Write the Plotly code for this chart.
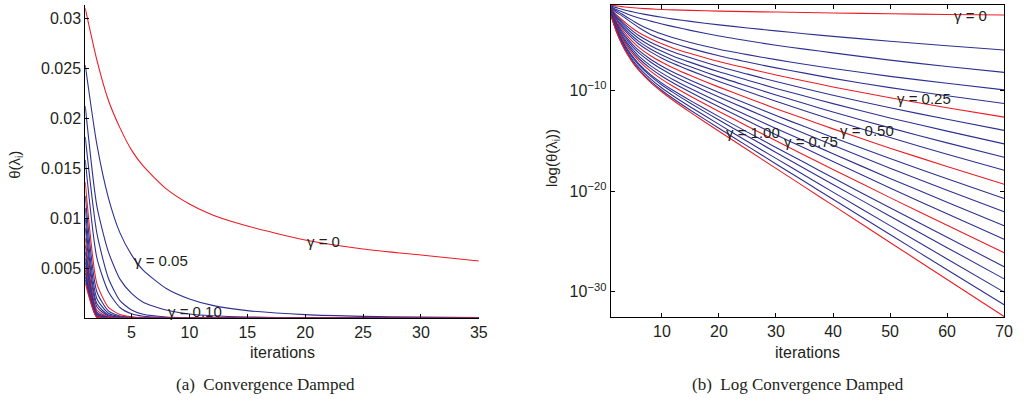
import plotly.graph_objects as go

iterations = [1, 2, 3, 4, 5, 6, 8, 10, 12, 15, 20, 25, 30, 35, 40, 50, 60, 70]

# damping factors
gammas = [0.00, 0.05, 0.10, 0.15, 0.20, 0.25, 0.30, 0.35, 0.40, 0.45, 0.50,
          0.55, 0.60, 0.65, 0.70, 0.75, 0.80, 0.85, 0.90, 0.95, 1.00]

# log10(theta(lambda_i)) per damping factor
g000 = [-1.509, -1.588, -1.662, -1.721, -1.775, -1.818, -1.889, -1.943, -1.987, -2.036, -2.108, -2.161, -2.201, -2.244, -2.29, -2.37, -2.44, -2.50]
g005 = [-1.597, -1.76, -1.92, -2.07, -2.20, -2.32, -2.53, -2.72, -2.90, -3.13, -3.47, -3.78, -4.07, -4.35, -4.62, -5.10, -5.55, -5.97]
g010 = [-1.674, -1.95, -2.18, -2.41, -2.61, -2.80, -3.10, -3.39, -3.65, -4.02, -4.58, -5.05, -5.50, -5.88, -6.26, -6.98, -7.61, -8.19]
g015 = [-1.742, -2.07, -2.40, -2.76, -3.10, -3.43, -3.97, -4.39, -4.76, -5.22, -5.89, -6.43, -6.93, -7.38, -7.81, -8.59, -9.28, -9.93]
g020 = [-1.801, -2.22, -2.58, -2.98, -3.38, -3.76, -4.42, -4.89, -5.30, -5.81, -6.55, -7.17, -7.75, -8.27, -8.79, -9.71, -10.52, -11.29]
g025 = [-1.866, -2.46, -2.97, -3.45, -3.88, -4.26, -4.86, -5.36, -5.79, -6.32, -7.12, -7.80, -8.45, -9.05, -9.64, -10.72, -11.71, -12.64]
g030 = [-1.914, -2.58, -3.15, -3.68, -4.14, -4.55, -5.20, -5.73, -6.18, -6.75, -7.62, -8.37, -9.11, -9.79, -10.46, -11.71, -12.86, -13.96]
g035 = [-1.959, -2.71, -3.33, -3.91, -4.41, -4.85, -5.54, -6.10, -6.59, -7.20, -8.14, -8.97, -9.79, -10.54, -11.30, -12.72, -14.03, -15.30]
g040 = [-2.004, -2.84, -3.53, -4.15, -4.68, -5.14, -5.87, -6.47, -6.98, -7.63, -8.64, -9.55, -10.45, -11.29, -12.13, -13.71, -15.20, -16.63]
g045 = [-2.046, -2.95, -3.69, -4.35, -4.91, -5.40, -6.16, -6.78, -7.32, -8.02, -9.10, -10.09, -11.07, -12.00, -12.92, -14.67, -16.32, -17.92]
g050 = [-2.097, -3.10, -3.91, -4.62, -5.22, -5.74, -6.54, -7.19, -7.76, -8.51, -9.66, -10.74, -11.80, -12.80, -13.81, -15.73, -17.54, -19.31]
g055 = [-2.137, -3.23, -4.11, -4.87, -5.50, -6.04, -6.89, -7.58, -8.18, -8.97, -10.20, -11.34, -12.49, -13.58, -14.67, -16.76, -18.77, -20.72]
g060 = [-2.180, -3.35, -4.28, -5.07, -5.73, -6.29, -7.17, -7.89, -8.52, -9.35, -10.65, -11.87, -13.09, -14.27, -15.44, -17.71, -19.90, -22.05]
g065 = [-2.222, -3.48, -4.48, -5.32, -6.01, -6.60, -7.52, -8.27, -8.92, -9.80, -11.17, -12.47, -13.77, -15.02, -16.28, -18.73, -21.10, -23.44]
g070 = [-2.252, -3.58, -4.64, -5.51, -6.23, -6.84, -7.80, -8.58, -9.26, -10.18, -11.62, -13.01, -14.38, -15.72, -17.06, -19.68, -22.25, -24.78]
g075 = [-2.284, -3.68, -4.79, -5.70, -6.44, -7.08, -8.07, -8.89, -9.60, -10.56, -12.08, -13.54, -14.99, -16.42, -17.84, -20.64, -23.39, -26.11]
g080 = [-2.319, -3.81, -4.98, -5.93, -6.71, -7.37, -8.41, -9.26, -10.00, -11.00, -12.59, -14.13, -15.66, -17.16, -18.67, -21.65, -24.58, -27.50]
g085 = [-2.347, -3.88, -5.07, -6.05, -6.84, -7.51, -8.57, -9.45, -10.21, -11.27, -12.93, -14.54, -16.15, -17.74, -19.33, -22.48, -25.61, -28.71]
g090 = [-2.387, -3.99, -5.24, -6.24, -7.06, -7.74, -8.84, -9.75, -10.54, -11.63, -13.36, -15.06, -16.74, -18.42, -20.09, -23.42, -26.73, -30.03]
g095 = [-2.420, -4.08, -5.37, -6.40, -7.23, -7.94, -9.06, -9.99, -10.81, -11.95, -13.75, -15.52, -17.29, -19.04, -20.80, -24.31, -27.80, -31.29]
g100 = [-2.456, -4.13, -5.43, -6.47, -7.32, -8.03, -9.19, -10.14, -10.99, -12.17, -14.05, -15.89, -17.73, -19.57, -21.41, -25.09, -28.77, -32.45]

series = [g000, g005, g010, g015, g020, g025, g030, g035, g040, g045, g050,
          g055, g060, g065, g070, g075, g080, g085, g090, g095, g100]

highlighted = [0.00, 0.25, 0.50, 0.75, 1.00]

left_x_ticks = [5, 10, 15, 20, 25, 30, 35]
left_y_ticks = [0.005, 0.01, 0.015, 0.02, 0.025, 0.03]
left_y_labels = ["0.005", "0.01", "0.015", "0.02", "0.025", "0.03"]
right_x_ticks = [10, 20, 30, 40, 50, 60, 70]
right_y_ticks = [1e-30, 1e-20, 1e-10]
right_y_labels = ["10<sup>\u221230</sup>", "10<sup>\u221220</sup>", "10<sup>\u221210</sup>"]

left_labels = [("\u03b3 = 0", 20.0, 0.0077), ("\u03b3 = 0.05", 5.0, 0.0058), ("\u03b3 = 0.10", 8.0, 0.00063)]
right_labels = [("\u03b3 = 0", 60.8, -2.57), ("\u03b3 = 0.25", 50.9, -10.82), ("\u03b3 = 0.50", 40.8, -13.96),
                ("\u03b3 = 0.75", 31.0, -15.1), ("\u03b3 = 1.00", 20.8, -14.13)]

RED = "rgb(236,28,36)"
BLUE = "rgb(46,49,146)"
SANS = "Liberation Sans, Arial, sans-serif"
SERIF = "Liberation Serif, Times New Roman, serif"
TXT = "#231f20"

fig = go.Figure()
for g, vals in zip(gammas, series):
    col = RED if any(abs(g - h) < 1e-9 for h in highlighted) else BLUE
    lin = [10 ** v for v in vals]
    fig.add_trace(go.Scatter(x=iterations, y=lin, mode="lines",
                             line=dict(color=col, width=1.1, shape="spline", smoothing=0.6),
                             xaxis="x", yaxis="y", showlegend=False, hoverinfo="skip"))
    fig.add_trace(go.Scatter(x=iterations, y=lin, mode="lines",
                             line=dict(color=col, width=1.1, shape="spline", smoothing=0.6),
                             xaxis="x2", yaxis="y2", showlegend=False, hoverinfo="skip"))

W, H = 1026, 404
def px_x(p):
    return p / W
def px_y(p):
    return 1 - p / H

axis_common = dict(showgrid=False, zeroline=False, showline=True, linecolor="black", linewidth=1,
                   ticks="inside", ticklen=4, tickcolor="black", tickwidth=1,
                   tickfont=dict(family=SANS, size=16, color=TXT))

fig.update_layout(
    width=W, height=H, margin=dict(l=0, r=0, t=0, b=0),
    plot_bgcolor="white", paper_bgcolor="white", showlegend=False,
    xaxis=dict(domain=[px_x(86), px_x(483)], range=[1, 35], tickvals=left_x_ticks, anchor="y", **axis_common),
    yaxis=dict(domain=[px_y(318), px_y(5)], range=[0, 0.0313], tickvals=left_y_ticks, ticktext=left_y_labels,
               anchor="x", **axis_common),
    xaxis2=dict(domain=[px_x(616), px_x(1013)], range=[1, 70], tickvals=right_x_ticks, anchor="y2",
                mirror="ticks", **axis_common),
    yaxis2=dict(domain=[px_y(317), px_y(5)], type="log", range=[-32.5, -1.5], tickvals=right_y_ticks,
                ticktext=right_y_labels, anchor="x2", mirror="ticks", **axis_common),
)

ann = []
for text, x, y in left_labels:
    ann.append(dict(text=text, x=x, y=y, xref="x", yref="y", xanchor="left", yanchor="middle",
                    showarrow=False, font=dict(family=SANS, size=15, color=TXT)))
for text, x, y in right_labels:
    ann.append(dict(text=text, x=x, y=y, xref="x2", yref="y2", xanchor="left", yanchor="middle",
                    showarrow=False, font=dict(family=SANS, size=15, color=TXT)))

ann += [
    dict(text="iterations", x=px_x(284.5), y=px_y(352), xref="paper", yref="paper", showarrow=False,
         xanchor="center", yanchor="middle", font=dict(family=SANS, size=16, color=TXT)),
    dict(text="iterations", x=px_x(814.5), y=px_y(352), xref="paper", yref="paper", showarrow=False,
         xanchor="center", yanchor="middle", font=dict(family=SANS, size=16, color=TXT)),
    dict(text="\u03b8(\u03bb<sub>i</sub>)", x=px_x(16), y=px_y(165), xref="paper", yref="paper", showarrow=False,
         textangle=-90, xanchor="center", yanchor="middle", font=dict(family=SANS, size=15, color=TXT)),
    dict(text="log(\u03b8(\u03bb<sub>i</sub>))", x=px_x(557), y=px_y(158), xref="paper", yref="paper", showarrow=False,
         textangle=-90, xanchor="center", yanchor="middle", font=dict(family=SANS, size=15, color=TXT)),
    dict(text="(a)\u2002Convergence Damped", x=px_x(268), y=px_y(384), xref="paper", yref="paper", showarrow=False,
         xanchor="center", yanchor="middle", font=dict(family=SERIF, size=17, color=TXT)),
    dict(text="(b)\u2002Log Convergence Damped", x=px_x(805), y=px_y(384), xref="paper", yref="paper", showarrow=False,
         xanchor="center", yanchor="middle", font=dict(family=SERIF, size=17, color=TXT)),
]
fig.update_layout(annotations=ann)

# remove the browser's default 8 px page margin so the figure sits at the window origin
fig.write_html("out.html", config={"displayModeBar": False},
               post_script="document.body.style.margin='0';document.body.style.overflow='hidden';")
